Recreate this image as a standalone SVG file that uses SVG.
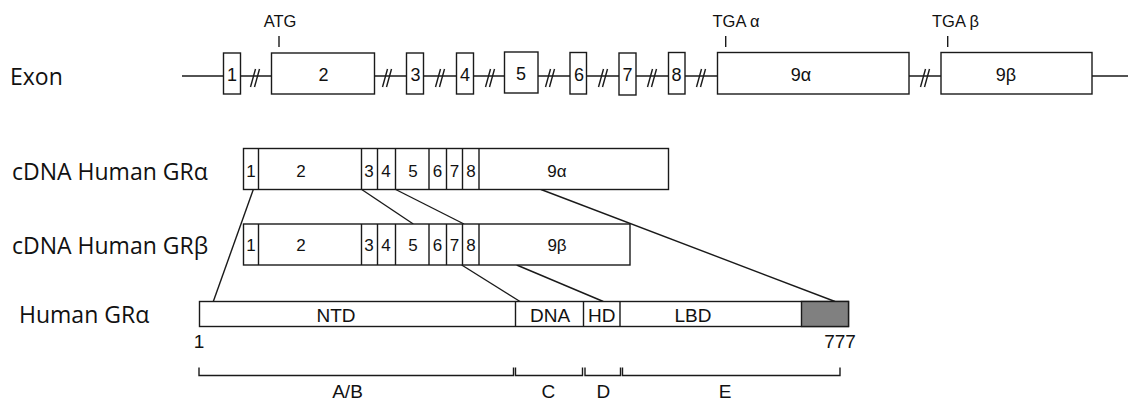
<svg xmlns="http://www.w3.org/2000/svg" width="1137" height="401" viewBox="0 0 1137 401">
<defs>
<style>
.bx{fill:#fff;stroke:#1a1a1a;stroke-width:1.4}
.ln{stroke:#1a1a1a;stroke-width:1.4;fill:none}
.lbl{font-family:"Open Sans",sans-serif;font-size:23px;fill:#111}
.t{font-family:"Liberation Sans",Arial,sans-serif;fill:#111;text-anchor:middle}
.ex{font-size:18px}
.cd{font-size:17px}
.pr{font-size:19px}
.top{font-family:"Liberation Sans",Arial,sans-serif;font-size:16.5px;fill:#111}
</style>
<g id="brk" class="ln"><line x1="-4.5" y1="87" x2="0.5" y2="69"/><line x1="-0.5" y1="87" x2="4.5" y2="69"/></g>
</defs>
<rect width="1137" height="401" fill="#fff"/>

<g id="labels">
<text class="lbl" x="10" y="85">Exon</text>
<text class="lbl" x="12" y="180">cDNA Human GRα</text>
<text class="lbl" x="12" y="254">cDNA Human GRβ</text>
<text class="lbl" x="19" y="323">Human GRα</text>
</g>

<g id="exon-row">
<line class="ln" x1="182" y1="76" x2="1128" y2="76"/>
<use href="#brk" x="255" y="0"/>
<use href="#brk" x="387" y="0"/>
<use href="#brk" x="440" y="0"/>
<use href="#brk" x="490" y="0"/>
<use href="#brk" x="550" y="0"/>
<use href="#brk" x="603" y="0"/>
<use href="#brk" x="652" y="0"/>
<use href="#brk" x="701" y="0"/>
<use href="#brk" x="925" y="0"/>
<rect class="bx" x="223.5" y="53" width="17" height="41"/>
<rect class="bx" x="271.5" y="53" width="103" height="41"/>
<rect class="bx" x="406.5" y="53" width="17" height="41"/>
<rect class="bx" x="456.5" y="53" width="17" height="41"/>
<rect class="bx" x="504.5" y="52" width="33.5" height="41"/>
<rect class="bx" x="570" y="52.5" width="16.5" height="41.5"/>
<rect class="bx" x="619" y="53" width="17" height="42"/>
<rect class="bx" x="668.5" y="52.5" width="16.5" height="41.5"/>
<rect class="bx" x="717.5" y="52.5" width="191.5" height="41.5"/>
<rect class="bx" x="941" y="52.5" width="151" height="41.5"/>
<g class="t ex">
<text x="232" y="81">1</text>
<text x="323.5" y="81">2</text>
<text x="415.5" y="81">3</text>
<text x="465" y="81">4</text>
<text x="521" y="80">5</text>
<text x="579" y="81">6</text>
<text x="627.5" y="81">7</text>
<text x="676.5" y="81">8</text>
<text x="801" y="81">9α</text>
<text x="1006" y="81">9β</text>
</g>
<line class="ln" x1="279" y1="36" x2="279" y2="47"/>
<line class="ln" x1="725.7" y1="36" x2="725.7" y2="47"/>
<line class="ln" x1="947.7" y1="36" x2="947.7" y2="47"/>
<text class="top" x="280" y="27" text-anchor="middle">ATG</text>
<text class="top" x="712.5" y="27">TGA α</text>
<text class="top" x="932" y="27">TGA β</text>
</g>

<g id="connectors" class="ln">
<line x1="361.7" y1="189.5" x2="413.3" y2="224"/>
<line x1="395.7" y1="189.5" x2="464" y2="224"/>
<line x1="541" y1="189.5" x2="835" y2="301.5"/>
<line x1="253.3" y1="189.5" x2="213.3" y2="301.5"/>
<line x1="461.7" y1="265" x2="520" y2="301.5"/>
<line x1="516.7" y1="265" x2="603.3" y2="301.5"/>
</g>

<g id="cdna-alpha">
<rect class="bx" x="243.5" y="148.5" width="425" height="41"/>
<path class="ln" d="M258.5 148.5V189.5M361.5 148.5V189.5M377.5 148.5V189.5M395.5 148.5V189.5M429 148.5V189.5M446.5 148.5V189.5M462.5 148.5V189.5M479 148.5V189.5"/>
<g class="t cd">
<text x="251" y="177">1</text>
<text x="301" y="177">2</text>
<text x="369" y="177">3</text>
<text x="386" y="177">4</text>
<text x="413" y="177">5</text>
<text x="437.5" y="177">6</text>
<text x="454.5" y="177">7</text>
<text x="471" y="177">8</text>
<text x="557" y="177">9α</text>
</g>
</g>

<g id="cdna-beta">
<rect class="bx" x="243.5" y="224" width="386.5" height="41"/>
<path class="ln" d="M258.5 224V265M361.5 224V265M377.5 224V265M395.5 224V265M429 224V265M446.5 224V265M462.5 224V265M479 224V265"/>
<g class="t cd">
<text x="251" y="251">1</text>
<text x="301" y="251">2</text>
<text x="369" y="251">3</text>
<text x="386" y="251">4</text>
<text x="413" y="251">5</text>
<text x="437.5" y="251">6</text>
<text x="454.5" y="251">7</text>
<text x="471" y="251">8</text>
<text x="557" y="251">9β</text>
</g>
</g>

<g id="protein">
<rect class="bx" x="199.5" y="301.5" width="649" height="25"/>
<rect x="801.5" y="301.5" width="47" height="25" fill="#808080" stroke="#1a1a1a" stroke-width="1.4"/>
<path class="ln" d="M515.5 301.5V326.5M583.5 301.5V326.5M620 301.5V326.5"/>
<g class="t pr">
<text x="336" y="321.5">NTD</text>
<text x="550" y="321.5">DNA</text>
<text x="601.7" y="321.5">HD</text>
<text x="693" y="321.5">LBD</text>
</g>
<text class="t pr" x="199" y="348" text-anchor="start">1</text>
<text class="t pr" x="840" y="348" text-anchor="start">777</text>
</g>

<g id="domains">
<path class="ln" d="M199 367.5V375.5H513.5V367.5M515.5 367.5V375.5H582.5V367.5M585 367.5V375.5H620.5V367.5M622.5 367.5V375.5H840V367.5"/>
<g class="t pr">
<text x="347.5" y="398">A/B</text>
<text x="548.3" y="398">C</text>
<text x="603.3" y="398">D</text>
<text x="725" y="398">E</text>
</g>
</g>
</svg>
